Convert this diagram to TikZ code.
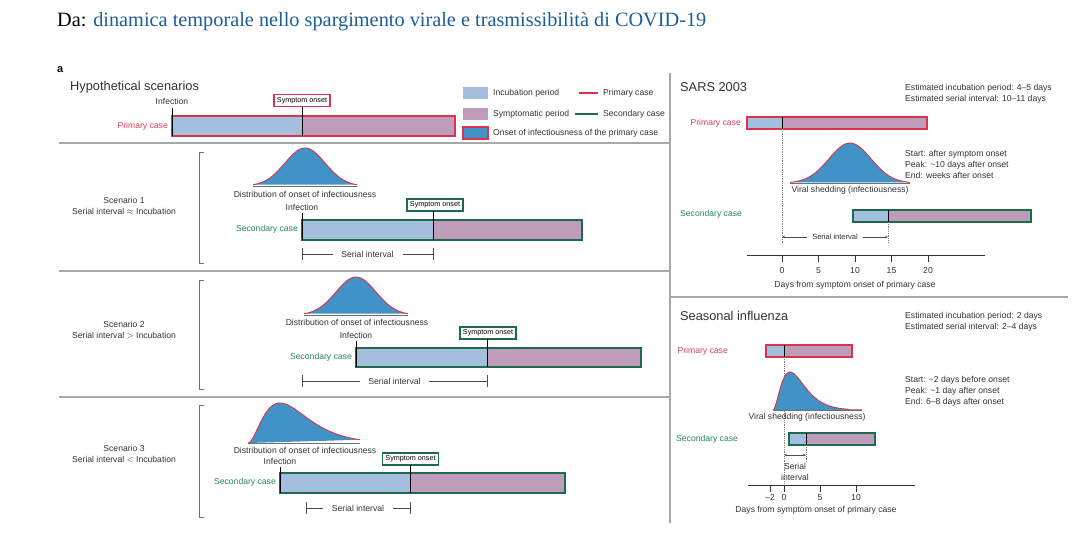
\documentclass[tikz,border=0pt]{standalone}
\usepackage{fontspec}
\setmainfont{Liberation Sans}
\newfontfamily\titlefont{Liberation Serif}
\usetikzlibrary{arrows.meta}
\definecolor{incub}{HTML}{A3BFDD}
\definecolor{sympt}{HTML}{BE9CBA}
\definecolor{infec}{HTML}{4192C6}
\definecolor{pred}{HTML}{D8354D}
\definecolor{pgreen}{HTML}{1D6B4C}
\definecolor{tgreen}{HTML}{2A8561}
\definecolor{tred}{HTML}{D8405A}
\definecolor{sepc}{HTML}{A8A8A8}
\definecolor{brk}{HTML}{707070}
\definecolor{ttlblue}{HTML}{1E5E96}
\definecolor{txt}{HTML}{333333}
\newcommand\mybar[6]{%
  \fill[incub] (#1,#4) rectangle (#2,#5);
  \fill[sympt] (#2,#4) rectangle (#3,#5);
  \draw[#6, line width=1.1pt] (#1,#4) rectangle (#3,#5);
  \draw[black, line width=0.9pt] (#2,#4) -- (#2,#5);}
% bell: centre, sigma, x0, x1, base, height
\newcommand\mybell[6]{%
  \fill[infec] plot[domain=#3:#4,samples=70,smooth] (\x,{#5-#6*exp(-((\x-#1)^2)/(2*#2*#2))}) -- cycle;
  \draw[pred, line width=0.9pt] plot[domain=#3:#4,samples=70,smooth] (\x,{#5-#6*exp(-((\x-#1)^2)/(2*#2*#2))});
  \draw[brk, line width=0.6pt] (#3,#5) -- (#4,#5);}
% skewed: x0, scale, x1, base, height
\newcommand\myskew[5]{%
  \fill[infec] plot[domain=#1:#3,samples=80,smooth] (\x,{#4-#5*(((\x-#1)/#2)^2)*exp(-(\x-#1)/#2)/0.5413}) -- cycle;
  \draw[pred, line width=0.9pt] plot[domain=#1:#3,samples=80,smooth] (\x,{#4-#5*(((\x-#1)/#2)^2)*exp(-(\x-#1)/#2)/0.5413});
  \draw[brk, line width=0.6pt] (#1,#4) -- (#3,#4);}
\begin{document}
\begin{tikzpicture}[x=1pt,y=-1pt,
  lbl/.style={font=\fontsize{8.6}{11}\selectfont, text=txt, inner sep=0pt},
  axlbl/.style={font=\fontsize{8.6}{11}\selectfont, text=txt, inner sep=0pt, anchor=base},
  sm/.style={font=\fontsize{7.5}{9}\selectfont, text=txt, inner sep=0pt},
  hd/.style={font=\fontsize{12.8}{14}\selectfont, text=txt, inner sep=0pt, anchor=west},
  onsetbox/.style={draw=#1, line width=1.2pt, fill=white, font=\fontsize{7.2}{8}\selectfont, text=black, inner xsep=3pt, inner ysep=2pt, minimum height=12pt},
  tick/.style={black, line width=0.9pt},
  sepline/.style={sepc, line width=1.4pt},
  bracket/.style={brk, line width=0.8pt},
  dots/.style={gray, densely dotted, line width=0.8pt},
  axis/.style={black!80, line width=0.8pt}]
\useasboundingbox (0,0) rectangle (1078,538);
\fill[white] (0,0) rectangle (1078,538);

% title
\node[anchor=base west, inner sep=0pt, font=\titlefont\fontsize{20.3}{22}\selectfont] (title) at (57,27) {Da: \textcolor{ttlblue}{dinamica temporale nello spargimento virale e trasmissibilità di COVID-19}};
\node[anchor=base west, inner sep=0pt, font=\bfseries\fontsize{11}{12}\selectfont] (alabel) at (57,72) {a};

% frame lines
\draw[sepline] (59,143) -- (670,143);
\draw[sepline] (59,271) -- (670,271);
\draw[sepline] (59,397) -- (670,397);
\draw[sepline] (670,73) -- (670,523);
\draw[sepline] (670,297) -- (1068,297);

% ---------- Hypothetical scenarios ----------
\node[hd] (hyp) at (70,87) {Hypothetical scenarios};
\mybar{172}{302}{455}{116}{136}{pred}
\node[lbl, anchor=east, text=tred] (pc0) at (168,126) {Primary case};
\node[lbl] (inf0) at (172,101) {Infection};
\coordinate (inf0b) at (172,136);
\draw[tick] (172,108) -- (inf0b);
\node[onsetbox=pred] (so0) at (302,100.5) {Symptom onset};
\coordinate (so0b) at (302,136);
\draw[tick] (so0.south) -- (so0b);

% legend
\fill[incub] (463,87) rectangle (488,99);
\node[lbl, anchor=west] (lg1) at (493,93) {Incubation period};
\fill[sympt] (463,108) rectangle (488,120);
\node[lbl, anchor=west] (lg2) at (493,114) {Symptomatic period};
\draw[pred, line width=1.2pt, fill=infec] (463,127) rectangle (488,139);
\node[lbl, anchor=west] (lg3) at (493,133) {Onset of infectiousness of the primary case};
\draw[pred, line width=1.2pt] (579,93) -- (598,93);
\node[lbl, anchor=west] (lg4) at (603,93) {Primary case};
\draw[pgreen, line width=1.2pt] (575,114) -- (598,114);
\node[lbl, anchor=west] (lg5) at (603,114) {Secondary case};

% ---------- Scenario 1 ----------
\draw[bracket] (204,152) -- (199,152) -- (199,263) -- (204,263);
\node[lbl, align=center] (sc1) at (124,205.5) {Scenario 1\\Serial interval $\approx$ Incubation};
\mybell{305}{20}{253}{357}{186}{38}
\node[lbl] (d1) at (305,194) {Distribution of onset of infectiousness};
\node[lbl] (inf1) at (302,207) {Infection};
\mybar{302}{433}{582}{220}{240}{pgreen}
\node[lbl, anchor=east, text=tgreen] (sc1c) at (298,229) {Secondary case};
\coordinate (inf1b) at (302,240);
\draw[tick] (302,213) -- (inf1b);
\node[onsetbox=pgreen] (so1) at (435,205) {Symptom onset};
\coordinate (so1b) at (433,240);
\draw[tick] (433,211) -- (so1b);
\node[lbl] (si1) at (367.5,254) {Serial interval};
\draw[black!70, line width=0.7pt] (302,248) -- (302,260) (302,254) -- (333,254);
\draw[black!70, line width=0.7pt] (433,248) -- (433,260) (433,254) -- (403,254);

% ---------- Scenario 2 ----------
\draw[bracket] (204,280) -- (199,280) -- (199,389) -- (204,389);
\node[lbl, align=center] (sc2) at (124,330.5) {Scenario 2\\Serial interval $>$ Incubation};
\mybell{356}{20}{304}{408}{315}{38}
\node[lbl] (d2) at (357,322) {Distribution of onset of infectiousness};
\node[lbl] (inf2) at (356,335) {Infection};
\mybar{356}{487}{641}{348}{367}{pgreen}
\node[lbl, anchor=east, text=tgreen] (sc2c) at (352,357) {Secondary case};
\coordinate (inf2b) at (356,367);
\draw[tick] (356,341) -- (inf2b);
\node[onsetbox=pgreen] (so2) at (488,333) {Symptom onset};
\coordinate (so2b) at (487,367);
\draw[tick] (487,339) -- (so2b);
\node[lbl] (si2) at (394.5,381) {Serial interval};
\draw[black!70, line width=0.7pt] (302,375) -- (302,387) (302,381) -- (360,381);
\draw[black!70, line width=0.7pt] (487,375) -- (487,387) (487,381) -- (429,381);

% ---------- Scenario 3 ----------
\draw[bracket] (204,405) -- (199,405) -- (199,517) -- (204,517);
\node[lbl, align=center] (sc3) at (124,454.5) {Scenario 3\\Serial interval $<$ Incubation};
\myskew{248}{16}{360}{443}{40}
\node[lbl] (d3) at (305,450) {Distribution of onset of infectiousness};
\node[lbl] (inf3) at (280,461) {Infection};
\mybar{280}{410}{565}{473}{493}{pgreen}
\node[lbl, anchor=east, text=tgreen] (sc3c) at (276,482) {Secondary case};
\coordinate (inf3b) at (280,493);
\draw[tick] (280,467) -- (inf3b);
\node[onsetbox=pgreen] (so3) at (410.5,459) {Symptom onset};
\coordinate (so3b) at (410,493);
\draw[tick] (410,465) -- (so3b);
\node[lbl] (si3) at (358,508) {Serial interval};
\draw[black!70, line width=0.7pt] (306,502) -- (306,514) (306,508) -- (323,508);
\draw[black!70, line width=0.7pt] (410,502) -- (410,514) (410,508) -- (393,508);

% ---------- SARS 2003 ----------
\node[hd] (sars) at (680,87) {SARS 2003};
\node[lbl, anchor=west, align=left] (sarsest) at (905,94) {Estimated incubation period: 4--5 days\\Estimated serial interval: 10--11 days};
\node[lbl, anchor=east, text=tred] (sarspc) at (741,123) {Primary case};
\mybar{747}{782}{927}{117}{129}{pred}
\coordinate (sz0) at (782,129);
\coordinate (sz0b) at (782,243);
\draw[dots] (sz0) -- (sz0b);
\mybell{850}{21}{790}{910}{183}{40}
\node[lbl] (sarsvs) at (850,190) {Viral shedding (infectiousness)};
\node[lbl, anchor=west, align=left] (sarsinfo) at (905,164) {Start: after symptom onset\\Peak: \textasciitilde 10 days after onset\\End: weeks after onset};
\node[lbl, anchor=west, text=tgreen] (sarssc) at (680,214) {Secondary case};
\mybar{853}{888}{1031}{210}{222}{pgreen}
\coordinate (sz1) at (888,222);
\coordinate (sz1b) at (888,243);
\draw[dots] (sz1) -- (sz1b);
\node[sm] (sarssi) at (835,237) {Serial interval};
\coordinate (sa0) at (782,237);
\coordinate (sa1) at (888,237);
\draw[black!70, line width=0.6pt, -{Stealth[length=3pt,width=2.5pt]}] (sarssi.west) ++(-5,0) -- (sa0);
\draw[black!70, line width=0.6pt, -{Stealth[length=3pt,width=2.5pt]}] (sarssi.east) ++(5,0) -- (sa1);
\draw[axis] (747,255) -- (985,255);
\foreach \d/\xx in {0/782,5/818.5,10/855,15/891.5,20/928}{
  \draw[axis] (\xx,255) -- (\xx,262);
  \node[axlbl] at (\xx,273) {\d};
}
\node[lbl] (sarsax) at (855,285) {Days from symptom onset of primary case};

% ---------- Seasonal influenza ----------
\node[hd] (flu) at (680,316) {Seasonal influenza};
\node[lbl, anchor=west, align=left] (fluest) at (905,321.5) {Estimated incubation period: 2 days\\Estimated serial interval: 2--4 days};
\node[lbl, anchor=east, text=tred] (flupc) at (728,351) {Primary case};
\mybar{766}{784}{852}{345}{357}{pred}
\coordinate (fz0) at (784,357);
\coordinate (fz0b) at (784,485);
\draw[dots] (fz0) -- (fz0b);
\myskew{773}{8.5}{862}{410}{38}
\node[lbl] (fluvs) at (807,417) {Viral shedding (infectiousness)};
\node[lbl, anchor=west, align=left] (fluinfo) at (905,391) {Start: \textasciitilde 2 days before onset\\Peak: \textasciitilde 1 day after onset\\End: 6--8 days after onset};
\node[lbl, anchor=west, text=tgreen] (flusc) at (676,439) {Secondary case};
\mybar{789}{806}{875}{433}{445}{pgreen}
\coordinate (fz1) at (806,445);
\coordinate (fz1b) at (806,462);
\draw[dots] (fz1) -- (fz1b);
\coordinate (fa0) at (784,455);
\coordinate (fa1) at (806,455);
\draw[black!70, line width=0.6pt, {Stealth[length=3pt,width=2.5pt]}-{Stealth[length=3pt,width=2.5pt]}] (fa0) -- (fa1);
\node[lbl, align=center] (flusi) at (795,471.5) {Serial\\interval};
\draw[axis] (748,485) -- (915,485);
\foreach \d/\xx in {{--2}/770,0/784,5/820,10/856}{
  \draw[axis] (\xx,485) -- (\xx,492);
  \node[axlbl] at (\xx,500) {\d};
}
\node[lbl] (fluax) at (816,510) {Days from symptom onset of primary case};
\end{tikzpicture}
\end{document}
